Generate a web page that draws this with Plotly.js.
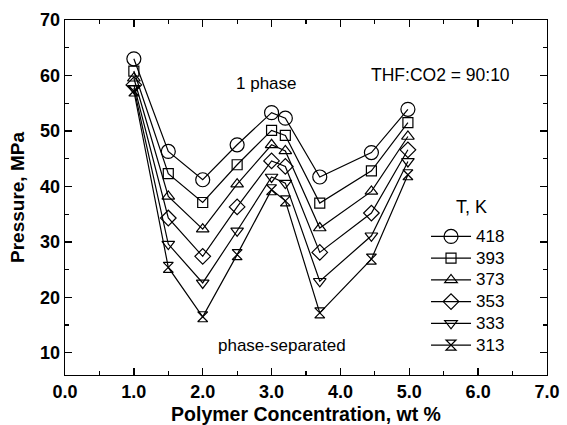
<!DOCTYPE html>
<html>
<head>
<meta charset="utf-8">
<script src="https://cdn.plot.ly/plotly-3.0.1.min.js"></script>
<style>html,body{margin:0;padding:0;background:#fff;}#chart{width:567px;height:425px;}</style>
</head>
<body>
<div id="chart"></div>
<script>
const concentration = [1.0, 1.5, 2.0, 2.5, 3.0, 3.2, 3.7, 4.45, 4.98];
const temperatures = ["418", "393", "373", "353", "333", "313"];
const p418 = [63.0, 46.3, 41.2, 47.5, 53.3, 52.3, 41.7, 46.1, 53.9];
const p393 = [60.8, 42.3, 37.1, 43.9, 50.1, 49.2, 37.0, 42.8, 51.5];
const p373 = [59.5, 38.2, 32.3, 40.4, 47.5, 46.4, 32.5, 39.1, 49.0];
const p353 = [58.3, 34.3, 27.4, 36.3, 44.6, 43.6, 28.1, 35.2, 46.6];
const p333 = [57.7, 29.6, 22.6, 32.0, 41.7, 40.6, 22.9, 31.1, 44.5];
const p313 = [57.2, 25.4, 16.5, 27.7, 39.4, 37.4, 17.2, 26.9, 42.1];
const xTickVals = [0, 1, 2, 3, 4, 5, 6, 7];
const yTickVals = [10, 20, 30, 40, 50, 60, 70];

const series = [p418, p393, p373, p353, p333, p313];
const symbols = ["circle-open", "square-open", "triangle-up-open", "diamond-open", "triangle-down-open", "hourglass-open"];
const sizes = [14, 10, 11, 12, 11, 10];

const FONT = "Liberation Sans, Arial, sans-serif";
const traces = series.map((ys, i) => ({
  x: concentration, y: ys,
  name: '<span style="font-size:17px">' + temperatures[i] + '</span>',
  type: "scatter", mode: "lines+markers",
  line: {color: "#000", width: 1.2},
  marker: {symbol: symbols[i], size: sizes[i], color: "#000", line: {color: "#000", width: 1.2}}
}));

const layout = {
  width: 567, height: 425,
  margin: {l: 65, r: 20, t: 20, b: 50},
  paper_bgcolor: "#fff", plot_bgcolor: "#fff",
  font: {family: FONT, color: "#000"},
  showlegend: true,
  legend: {
    x: 0.749, y: 0.435, xanchor: "left", yanchor: "top",
    font: {family: FONT, size: 14.4, color: "#000"},
    itemwidth: 40, bgcolor: "rgba(0,0,0,0)", borderwidth: 0
  },
  xaxis: {
    range: [0, 7], tickvals: xTickVals, tickformat: ".1f",
    showline: true, linecolor: "#000", linewidth: 1.3, mirror: "ticks",
    ticks: "inside", ticklen: 7, tickwidth: 1.3, tickcolor: "#000",
    minor: {dtick: 0.5, ticks: "inside", ticklen: 4, tickwidth: 1.2, tickcolor: "#000"},
    showgrid: false, zeroline: false,
    tickfont: {family: FONT, size: 18, weight: 700, color: "#000"},
    title: {text: "Polymer Concentration, wt %", font: {family: FONT, size: 19.5, weight: 700, color: "#000"}, standoff: 7}
  },
  yaxis: {
    range: [6, 70], tickvals: yTickVals,
    showline: true, linecolor: "#000", linewidth: 1.3, mirror: "ticks",
    ticks: "inside", ticklen: 7, tickwidth: 1.3, tickcolor: "#000",
    minor: {dtick: 5, ticks: "inside", ticklen: 4, tickwidth: 1.2, tickcolor: "#000"},
    showgrid: false, zeroline: false,
    tickfont: {family: FONT, size: 18, weight: 700, color: "#000"},
    title: {text: "Pressure, MPa", font: {family: FONT, size: 19, weight: 700, color: "#000"}, standoff: 10}
  },
  annotations: [
    {x: 2.92, y: 58.6, xref: "x", yref: "y", text: "1 phase", showarrow: false, font: {family: FONT, size: 17, color: "#000"}},
    {x: 5.45, y: 60.1, xref: "x", yref: "y", text: "THF:CO2 = 90:10", showarrow: false, font: {family: FONT, size: 17.5, color: "#000"}},
    {x: 3.15, y: 11.3, xref: "x", yref: "y", text: "phase-separated", showarrow: false, font: {family: FONT, size: 17, color: "#000"}},
    {x: 5.91, y: 36.3, xref: "x", yref: "y", text: "T, K", showarrow: false, font: {family: FONT, size: 18, color: "#000"}}
  ]
};

Plotly.newPlot("chart", traces, layout, {displayModeBar: false, staticPlot: true});
</script>
</body>
</html>
